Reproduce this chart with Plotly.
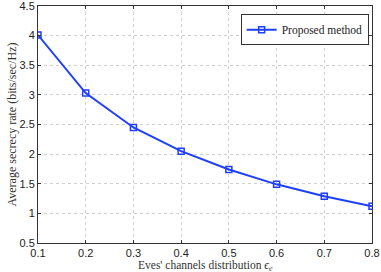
import plotly.graph_objects as go

x_vals = [0.1, 0.2, 0.3, 0.4, 0.5, 0.6, 0.7, 0.8]
rate = [4.01, 3.03, 2.45, 2.05, 1.74, 1.49, 1.29, 1.12]
series_name = "Proposed method"
x_ticks = [0.1, 0.2, 0.3, 0.4, 0.5, 0.6, 0.7, 0.8]
y_ticks = [0.5, 1, 1.5, 2, 2.5, 3, 3.5, 4, 4.5]
x_title = "Eves' channels distribution <i>ϵ</i><sub><i>e</i></sub>"
y_title = "Average secrecy rate (bits/sec/Hz)"

fig = go.Figure()
fig.add_trace(go.Scatter(
    x=x_vals, y=rate, mode="lines+markers", name=series_name,
    line=dict(color="#1f3fff", width=2),
    marker=dict(symbol="square-open", size=6, color="#1f3fff", line=dict(width=1.5)),
))

axis_common = dict(
    showline=True, linecolor="#333", linewidth=1, mirror="ticks",
    ticks="inside", ticklen=3, tickcolor="#333",
    showgrid=True, gridcolor="#cfcfcf", griddash="dot", gridwidth=1,
    zeroline=False, automargin=False, ticklabeloverflow="allow",
    tickfont=dict(family="Liberation Sans, Arial", size=11, color="#222"),
)

fig.update_layout(
    width=381, height=272,
    margin=dict(l=38, r=9, t=6, b=29, autoexpand=False),
    paper_bgcolor="white", plot_bgcolor="white",
    showlegend=True,
    legend=dict(
        x=0.99, y=0.965, xanchor="right", yanchor="top",
        bordercolor="#333", borderwidth=1, bgcolor="white",
        font=dict(family="Liberation Serif, Times New Roman", size=11.5, color="#222"),
        itemwidth=30, tracegroupgap=0,
    ),
    xaxis=dict(
        range=[0.1, 0.8], tickvals=x_ticks, ticktext=[f"{v:g}" for v in x_ticks],
        **axis_common,
    ),
    yaxis=dict(
        range=[0.5, 4.5], tickvals=y_ticks, ticktext=[f"{v:g}" for v in y_ticks],
        title=dict(text=y_title,
                   font=dict(family="Liberation Serif, Times New Roman", size=12, color="#333"),
                   standoff=0),
        **axis_common,
    ),
    annotations=[dict(
        text=x_title, xref="paper", yref="paper", x=0.5, y=-29 / 237,
        xanchor="center", yanchor="bottom", showarrow=False, borderpad=0, yshift=-2,
        font=dict(family="Liberation Serif, Times New Roman", size=11.5, color="#333"),
    )],
)

fig.write_html(
    "out.html",
    config={"displayModeBar": False},
    post_script="document.body.style.margin='0';document.body.style.overflow='hidden';",
)
